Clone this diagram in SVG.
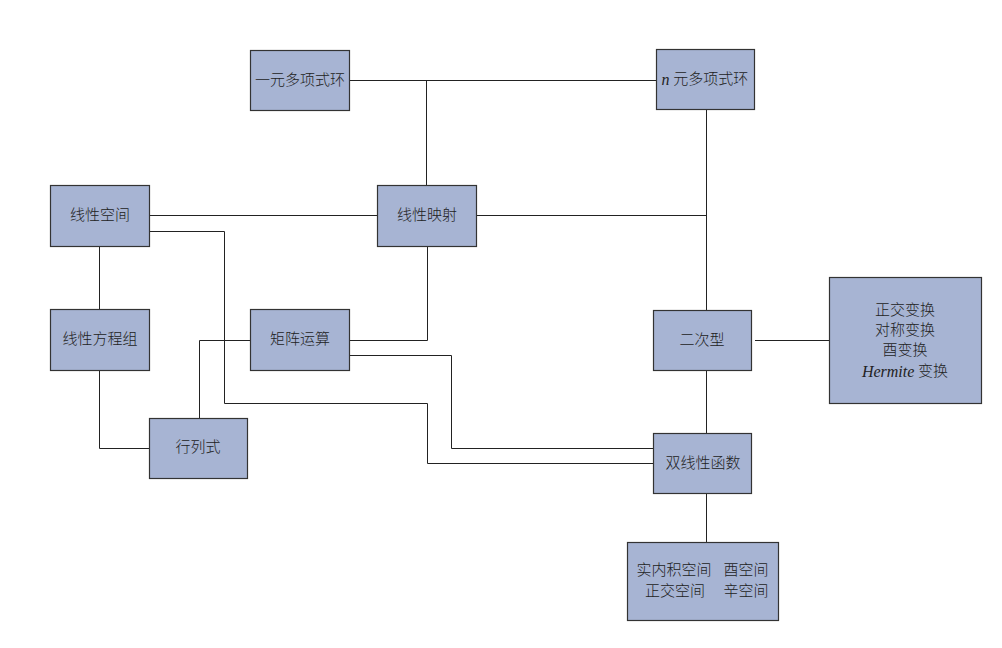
<svg xmlns="http://www.w3.org/2000/svg" width="1002" height="648" viewBox="0 0 1002 648">
<style>
.box{fill:#a7b4d3;stroke:#333;stroke-width:1.2}
.t{font-family:"Liberation Serif","Noto Sans CJK SC",serif;font-size:15px;font-weight:300;fill:#222;text-anchor:middle;dominant-baseline:central}
.m{font-style:italic;font-size:16px;font-weight:400}
.c{fill:none;stroke:#222;stroke-width:1}
</style>
<rect width="1002" height="648" fill="#fff"/>
<g id="connectors">
<path class="c" d="M349,80.5H656"/>
<path class="c" d="M426.5,80.5V185"/>
<path class="c" d="M706.5,110V310"/>
<path class="c" d="M476,215.5H706.5"/>
<path class="c" d="M149,215.5H377"/>
<path class="c" d="M149,231.5H224.5V403.5H427.5V463.5H655"/>
<path class="c" d="M349,340.5H427.5V246"/>
<path class="c" d="M349,355.5H451.5V448.5H653"/>
<path class="c" d="M250,340.5H199.5V418"/>
<path class="c" d="M99.5,246V309"/>
<path class="c" d="M99.5,370V448.5H149"/>
<path class="c" d="M755,340.5H829"/>
<path class="c" d="M706.5,370V433"/>
<path class="c" d="M706.5,493V542"/>
</g>
<g id="n1"><rect class="box" x="250.5" y="50.5" width="99" height="60"/><text class="t" x="300" y="80">一元多项式环</text></g>
<g id="n2"><rect class="box" x="656.5" y="49.5" width="98" height="60"/><text class="t" x="705" y="79"><tspan class="m">n</tspan> 元多项式环</text></g>
<g id="n3"><rect class="box" x="50.5" y="185.5" width="99" height="61"/><text class="t" x="100" y="215">线性空间</text></g>
<g id="n4"><rect class="box" x="377.5" y="185.5" width="99" height="61"/><text class="t" x="427" y="215">线性映射</text></g>
<g id="n5"><rect class="box" x="50.5" y="309.5" width="99" height="61"/><text class="t" x="100" y="339">线性方程组</text></g>
<g id="n6"><rect class="box" x="250.5" y="309.5" width="99" height="61"/><text class="t" x="300" y="339">矩阵运算</text></g>
<g id="n7"><rect class="box" x="653.5" y="310.5" width="98" height="60"/><text class="t" x="702" y="340">二次型</text></g>
<g id="n8"><rect class="box" x="829.5" y="277.5" width="152" height="126"/>
<text class="t" x="905" y="310">正交变换</text>
<text class="t" x="905" y="330">对称变换</text>
<text class="t" x="905" y="350">酉变换</text>
<text class="t" x="905" y="371"><tspan class="m">Hermite</tspan> 变换</text></g>
<g id="n9"><rect class="box" x="149.5" y="418.5" width="98" height="60"/><text class="t" x="198" y="447">行列式</text></g>
<g id="n10"><rect class="box" x="653.5" y="433.5" width="98" height="60"/><text class="t" x="703" y="463">双线性函数</text></g>
<g id="n11"><rect class="box" x="627.5" y="542.5" width="151" height="78"/>
<text class="t" x="674" y="570">实内积空间</text>
<text class="t" x="746" y="570">酉空间</text>
<text class="t" x="675" y="591">正交空间</text>
<text class="t" x="746" y="591">辛空间</text></g>
</svg>
